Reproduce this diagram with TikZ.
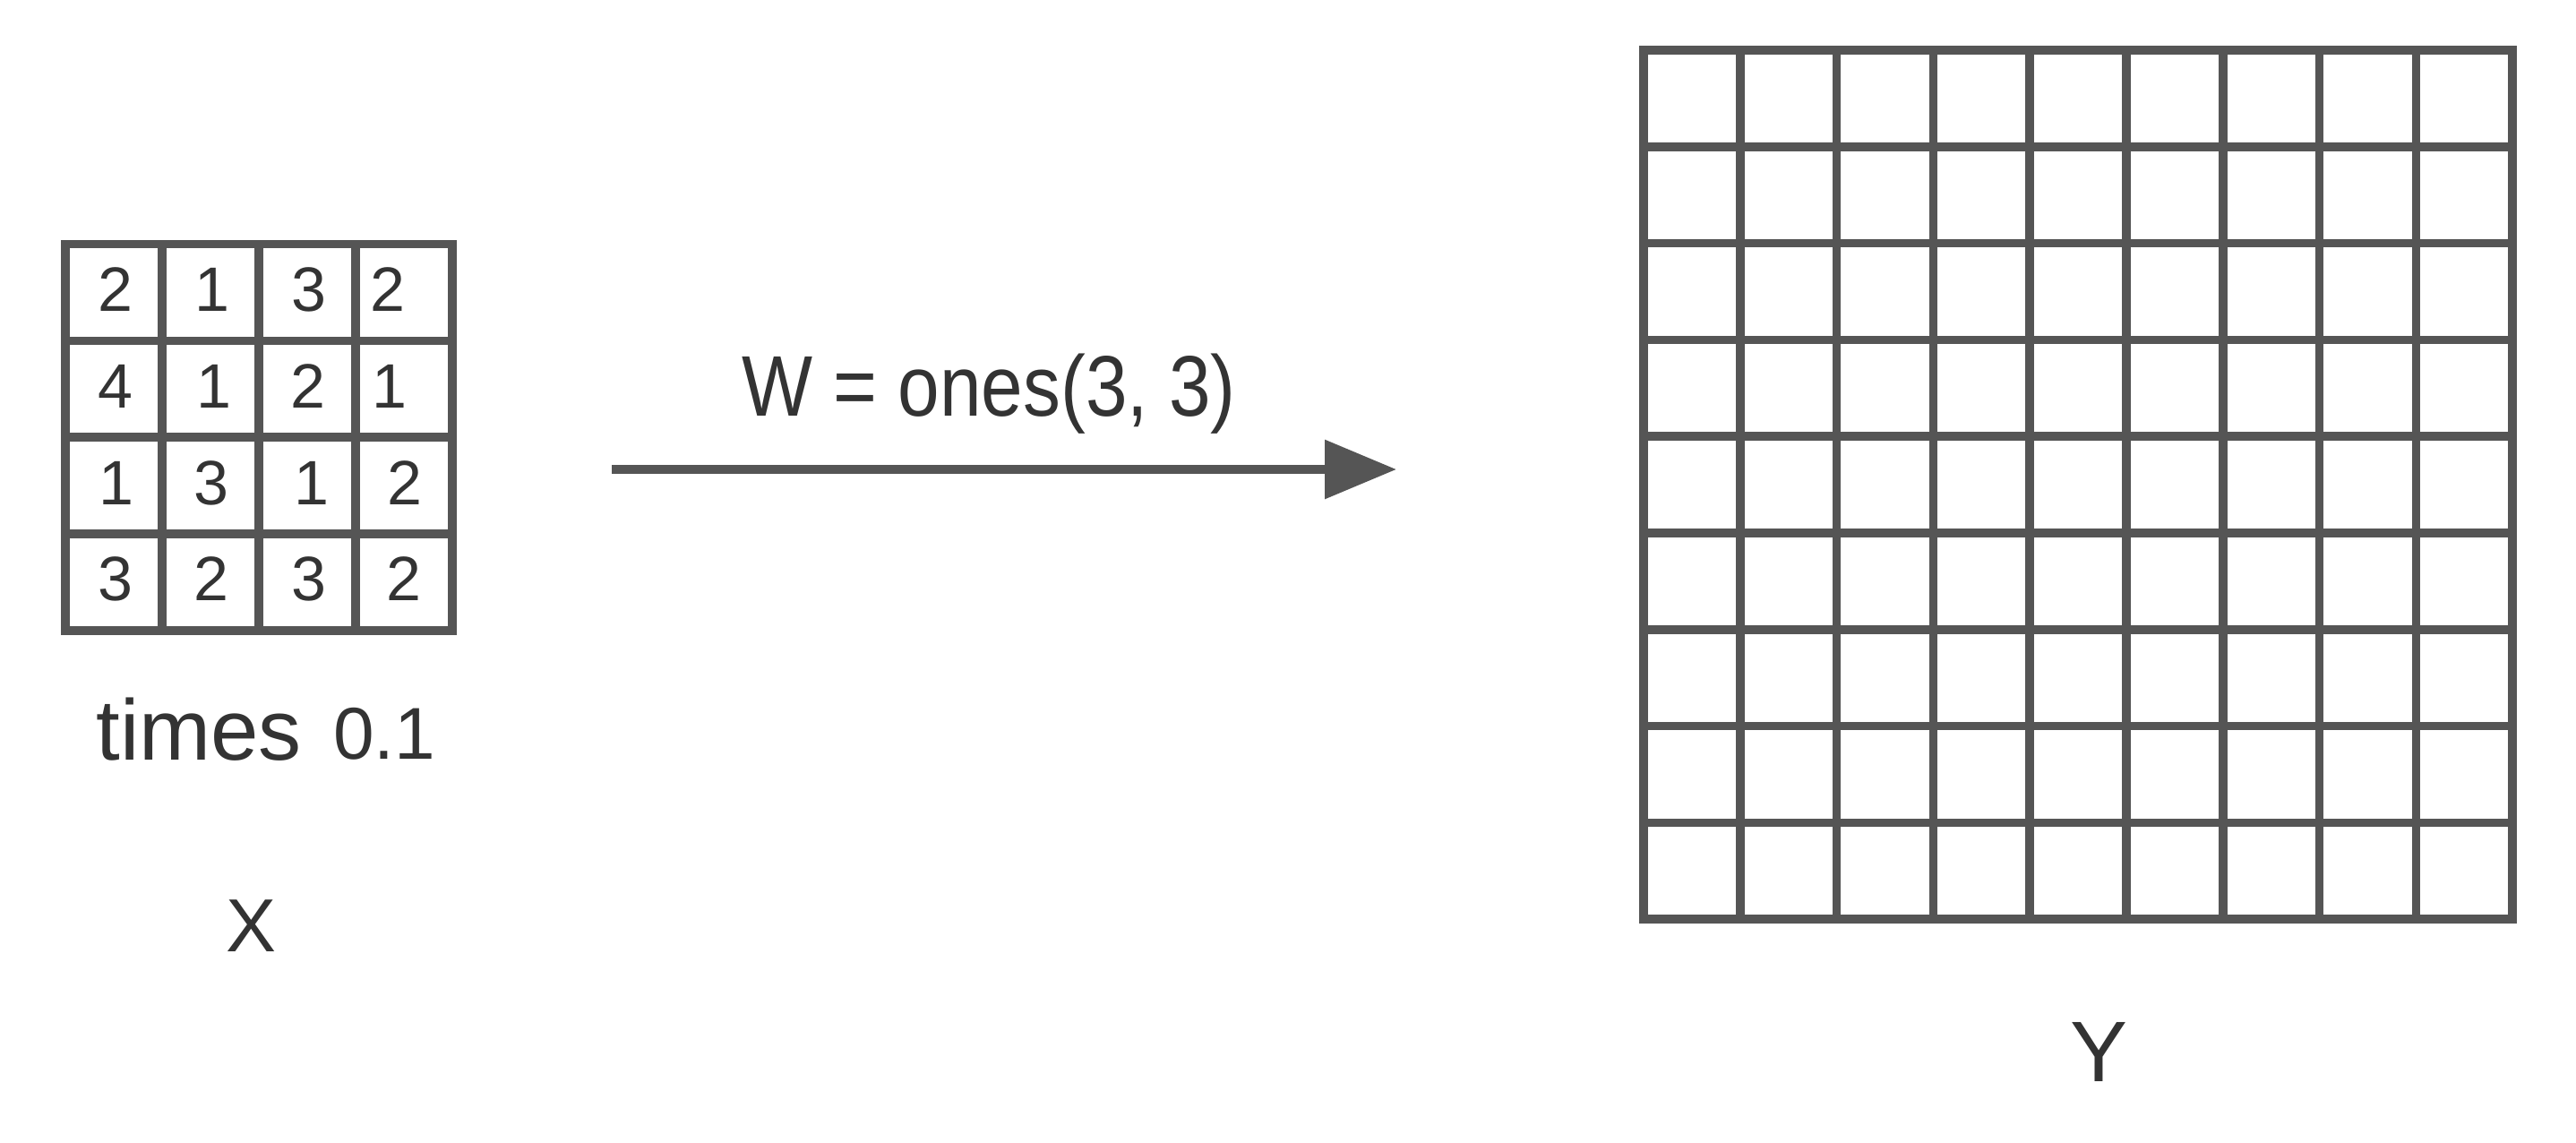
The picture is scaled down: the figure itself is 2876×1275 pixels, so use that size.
\documentclass[tikz,border=0pt]{standalone}
\usepackage{fontspec}
\setmainfont{Liberation Sans}
\usepackage{graphicx}
\usetikzlibrary{arrows.meta}
\definecolor{linegray}{HTML}{555555}
\definecolor{textgray}{HTML}{333333}
\begin{document}
\begin{tikzpicture}[x=0.25pt,y=-0.25pt,
  gridline/.style={draw=linegray,line width=2.4pt},
  cellnum/.style={inner sep=0pt,anchor=base,text=textgray,font=\fontsize{17.5}{20}\selectfont},
  lbl/.style={inner sep=0pt,anchor=base,text=textgray},
  flow/.style={draw=linegray,line width=2.4pt,-{Triangle[length=20pt,width=16pt]}}]
\useasboundingbox (0,0) rectangle (2876,1275);
% ---- input grid X (4x4)
\foreach \i in {1,2,3} {
  \draw[gridline] ({73+108*\i},272.5) -- ({73+108*\i},703.7);
  \draw[gridline] (73,{272.5+107.8*\i}) -- (505,{272.5+107.8*\i});
}
\draw[gridline] (73,272.5) rectangle (505,703.7);
\foreach \r/\c/\v/\dx in {
  1/1/2/2, 1/2/1/2, 1/3/3/2, 1/4/2/-18,
  2/1/4/2, 2/2/1/3.6, 2/3/2/1, 2/4/1/-16.4,
  3/1/1/2.6, 3/2/3/1, 3/3/1/4.6, 3/4/2/1,
  4/1/3/2, 4/2/2/1, 4/3/3/2, 4/4/2/0} {
  \node[cellnum] (x-\r-\c) at ({73+108*(\c-0.5)+\dx},{272.5+107.8*(\r-1)+75}) {\v};
}
\node[lbl,font=\fontsize{24}{28}\selectfont] (times) at (222,848) {times};
\node[lbl,anchor=base west,font=\fontsize{20.5}{24}\selectfont] (factor) at (371.6,847) {0.1};
\node[lbl,font=\fontsize{21}{25}\selectfont] (xlab) at (281,1062) {X};
% ---- arrow with label
\coordinate (as) at (683,524);
\coordinate (ae) at (1559,524);
\draw[flow] (as) -- (ae);
\node[lbl,font=\fontsize{24}{28}\selectfont] (wlab) at (1104,464) {\scalebox{0.872}[1]{W = ones(3, 3)}};
% ---- output grid Y (9x9)
\foreach \i in {1,...,8} {
  \draw[gridline] ({1835+107.8*\i},56) -- ({1835+107.8*\i},1026.2);
  \draw[gridline] (1835,{56+107.8*\i}) -- (2805.2,{56+107.8*\i});
}
\draw[gridline] (1835,56) rectangle (2805.2,1026.2);
\node[lbl,font=\fontsize{24}{28}\selectfont] (ylab) at (2343,1207) {Y};
\end{tikzpicture}
\end{document}
